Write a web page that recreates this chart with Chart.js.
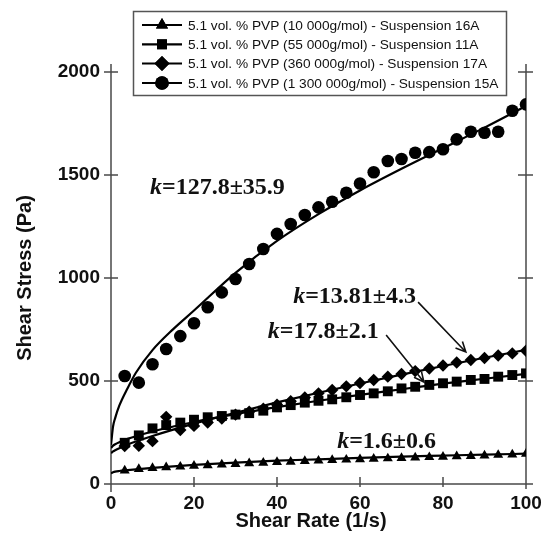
<!DOCTYPE html>
<html><head><meta charset="utf-8">
<script src="https://cdn.jsdelivr.net/npm/chart.js@4/dist/chart.umd.min.js"></script>
<style>html,body{margin:0;padding:0;background:#fff}#wrap{width:543px;height:545px}</style>
</head><body><div id="wrap"><canvas id="c" width="543" height="545"></canvas></div>
<script>
// ---- data ----
const shearRate = [3.3, 6.7, 10, 13.3, 16.7, 20, 23.3, 26.7, 30, 33.3, 36.7, 40, 43.3, 46.7, 50, 53.3, 56.7, 60, 63.3, 66.7, 70, 73.3, 76.7, 80, 83.3, 86.7, 90, 93.3, 96.7, 100];
const stress16A = [65, 72, 77, 81, 84, 88, 91, 94, 97, 100, 103, 106, 108, 111, 113, 116, 118, 120, 122, 124, 126, 128, 130, 132, 134, 136, 138, 141, 143, 146];
const stress11A = [200, 236, 270, 286, 298, 312, 324, 330, 337, 344, 356, 372, 383, 395, 404, 411, 421, 432, 440, 450, 464, 472, 481, 489, 497, 505, 510, 521, 529, 537];
const stress17A = [184, 186, 208, 326, 262, 282, 298, 318, 337, 351, 365, 385, 402, 420, 440, 456, 474, 490, 505, 521, 534, 548, 561, 575, 590, 602, 612, 624, 634, 647];
const stress15A = [524, 492, 581, 655, 718, 780, 858, 930, 995, 1068, 1141, 1214, 1262, 1306, 1343, 1370, 1414, 1459, 1513, 1568, 1578, 1608, 1611, 1625, 1673, 1710, 1705, 1710, 1812, 1843];
// fitted curves
const fitRate = [0, 0.5, 1, 2, 4, 6, 10, 15, 20, 30, 40, 50, 60, 70, 80, 90, 100];
const fit16A = [52, 57, 60, 63, 67, 71, 78, 86, 93, 104, 113, 120, 127, 133, 138, 143, 147];
const fit11A = [175, 186, 193, 203, 219, 232, 255, 279, 301, 339, 373, 404, 433, 460, 487, 511, 535];
const fit17A = [150, 158, 164, 174, 191, 206, 233, 264, 293, 346, 396, 443, 488, 531, 573, 613, 651];
const fit15A = [190, 280, 320, 380, 465, 540, 650, 752, 842, 1025, 1180, 1310, 1425, 1530, 1630, 1730, 1835];
const seriesLabels = [
  '5.1 vol. % PVP (10 000g/mol) - Suspension 16A',
  '5.1 vol. % PVP (55 000g/mol) - Suspension 11A',
  '5.1 vol. % PVP (360 000g/mol) - Suspension 17A',
  '5.1 vol. % PVP (1 300 000g/mol) - Suspension 15A'
];
const xTicks = [0, 20, 40, 60, 80, 100];
const yTicks = [0, 500, 1000, 1500, 2000];
const kTexts = ['=127.8±35.9', '=13.81±4.3', '=17.8±2.1', '=1.6±0.6'];
const xTitle = 'Shear Rate (1/s)';
const yTitle = 'Shear Stress (Pa)';

// ---- chart ----
const pts = (xs, ys) => xs.map((x, i) => ({x: x, y: ys[i]}));
const styles = ['triangle', 'rect', 'rectRot', 'circle'];
const radii = [5.8, 7, 6.2, 6.3];
const dataSeries = [stress16A, stress11A, stress17A, stress15A];
const fitSeries = [fit16A, fit11A, fit17A, fit15A];
const datasets = [];
fitSeries.forEach((f, i) => datasets.push({
  label: 'fit ' + seriesLabels[i], data: pts(fitRate, f), showLine: true,
  borderColor: '#000', borderWidth: 2.2, pointRadius: 0, cubicInterpolationMode: 'monotone', fill: false
}));
dataSeries.forEach((d, i) => datasets.push({
  label: seriesLabels[i], data: pts(shearRate, d), showLine: false,
  pointStyle: styles[i], pointRadius: radii[i], backgroundColor: '#000', borderColor: '#000', borderWidth: 0
}));

const AX = '#4a4a4a';
const framePlugin = {
  id: 'frame',
  beforeDatasetsDraw(chart) {
    const {ctx, chartArea: a, scales: {x, y}} = chart;
    ctx.save();
    ctx.strokeStyle = AX; ctx.lineWidth = 1.5;
    ctx.beginPath();
    ctx.moveTo(a.left, a.top - 8); ctx.lineTo(a.left, a.bottom + 8);
    ctx.moveTo(a.left - 7, a.bottom); ctx.lineTo(a.right + 7, a.bottom);
    ctx.moveTo(a.right, a.top - 8); ctx.lineTo(a.right, a.bottom + 5);
    yTicks.forEach(v => {
      const py = y.getPixelForValue(v);
      ctx.moveTo(a.left - 7, py); ctx.lineTo(a.left + 7, py);
      ctx.moveTo(a.right - 8, py); ctx.lineTo(a.right + 7, py);
    });
    xTicks.forEach(v => {
      const px = x.getPixelForValue(v);
      ctx.moveTo(px, a.bottom - 7); ctx.lineTo(px, a.bottom + 3);
    });
    ctx.stroke();
    // axis titles
    ctx.fillStyle = '#111';
    ctx.font = 'bold 20px "Liberation Sans", Arial, sans-serif';
    ctx.textAlign = 'center'; ctx.textBaseline = 'alphabetic';
    ctx.fillText(xTitle, 311, 527);
    ctx.translate(31, (a.top + a.bottom) / 2);
    ctx.rotate(-Math.PI / 2);
    ctx.fillText(yTitle, 0, 0);
    ctx.restore();
  },
  afterDatasetsDraw(chart) {
    const {ctx, scales: {x, y}} = chart;
    ctx.save();
    ctx.fillStyle = '#111';
    // annotations: [x value, y value] of text left/middle
    const ann = [[9.4, 1437, 0], [43.9, 908, 1], [37.8, 738, 2], [54.5, 204, 3]];
    ann.forEach(([vx, vy, i]) => {
      let px = x.getPixelForValue(vx), py = y.getPixelForValue(vy);
      ctx.textBaseline = 'middle'; ctx.textAlign = 'left';
      ctx.font = 'italic bold 24px "Liberation Serif", "Times New Roman", serif';
      ctx.fillText('k', px, py);
      px += ctx.measureText('k').width;
      ctx.font = 'bold 24px "Liberation Serif", "Times New Roman", serif';
      ctx.fillText(kTexts[i], px, py);
    });
    // arrows
    const arrows = [[74, 883, 85.5, 641], [66.3, 723, 75.4, 495]];
    ctx.strokeStyle = '#111'; ctx.lineWidth = 1.6;
    arrows.forEach(([x1, y1, x2, y2]) => {
      const ax = x.getPixelForValue(x1), ay = y.getPixelForValue(y1);
      const bx = x.getPixelForValue(x2), by = y.getPixelForValue(y2);
      const ang = Math.atan2(by - ay, bx - ax);
      ctx.beginPath();
      ctx.moveTo(ax, ay); ctx.lineTo(bx, by);
      ctx.moveTo(bx - 11 * Math.cos(ang - 0.45), by - 11 * Math.sin(ang - 0.45));
      ctx.lineTo(bx, by);
      ctx.lineTo(bx - 11 * Math.cos(ang + 0.45), by - 11 * Math.sin(ang + 0.45));
      ctx.stroke();
    });
    // legend
    ctx.fillStyle = '#fff';
    ctx.fillRect(133.5, 11.5, 373, 84);
    ctx.strokeStyle = '#555'; ctx.lineWidth = 1.5;
    ctx.strokeRect(133.5, 11.5, 373, 84);
    const rows = [25, 44.3, 63.5, 83];
    const legR = [7, 7, 7.5, 6.8];
    seriesLabels.forEach((lab, i) => {
      const ry = rows[i];
      ctx.strokeStyle = '#000'; ctx.lineWidth = 2.2;
      ctx.beginPath(); ctx.moveTo(142, ry); ctx.lineTo(182, ry); ctx.stroke();
      ctx.fillStyle = '#000';
      Chart.helpers.drawPoint(ctx, {pointStyle: styles[i], radius: legR[i], borderWidth: 0}, 162, ry);
      ctx.fill();
      ctx.fillStyle = '#111';
      ctx.font = '13.7px "Liberation Sans", Arial, sans-serif';
      ctx.textAlign = 'left'; ctx.textBaseline = 'middle';
      ctx.fillText(lab, 188, ry + 1);
    });
    ctx.restore();
  }
};

const tickFont = {family: '"Liberation Sans", Arial, sans-serif', size: 19, weight: 'bold'};
new Chart(document.getElementById('c'), {
  type: 'scatter',
  data: {datasets: datasets},
  options: {
    responsive: false, animation: false, devicePixelRatio: 1,
    layout: {padding: {top: 72, right: 17, left: 0, bottom: 0}},
    plugins: {legend: {display: false}, tooltip: {enabled: false}},
    scales: {
      x: {
        type: 'linear', min: 0, max: 100,
        afterBuildTicks: s => { s.ticks = xTicks.map(v => ({value: v})); },
        afterFit: s => { s.height = 61; s.paddingLeft = 0; s.paddingRight = 0; },
        grid: {display: false, drawTicks: false}, border: {display: false},
        ticks: {padding: 8, color: '#111', font: tickFont, maxRotation: 0, callback: v => String(v)}
      },
      y: {
        type: 'linear', min: 0, max: 2000,
        afterBuildTicks: s => { s.ticks = yTicks.map(v => ({value: v})); },
        afterFit: s => { s.width = 111; s.paddingTop = 0; s.paddingBottom = 0; },
        grid: {display: false, drawTicks: false}, border: {display: false},
        ticks: {padding: 11, color: '#111', font: tickFont, callback: v => String(v)}
      }
    }
  },
  plugins: [framePlugin]
});
</script>
</body></html>
